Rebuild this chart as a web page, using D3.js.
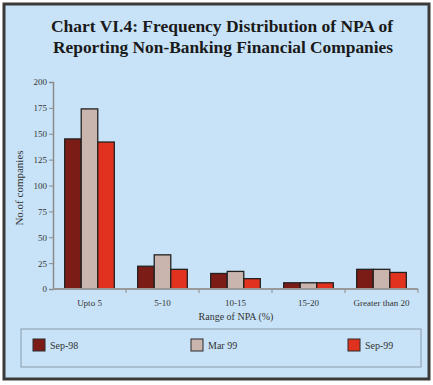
<!DOCTYPE html>
<html>
<head>
<meta charset="utf-8">
<script src="https://cdn.jsdelivr.net/npm/d3@7"></script>
<style>
  body { margin: 0; background: #ffffff; }
  .tick text { font-family: "Liberation Serif", serif; font-size: 9px; fill: #333; }
</style>
</head>
<body>
<div class="chart"></div>
<script>
var categories = ["Upto 5", "5-10", "10-15", "15-20", "Greater than 20"];
var seriesNames = ["Sep-98", "Mar 99", "Sep-99"];
var sep98 = [145, 22, 15, 6, 19];
var mar99 = [174, 33, 17, 6, 19];
var sep99 = [142, 19, 10, 6, 16];
var yTicks = [0, 25, 50, 75, 100, 125, 150, 175, 200];
var colors = ["#7b1c16", "#c9b5ad", "#e0321f"];

var svgWidth = 433;
var svgHeight = 385;

var margin = { top: 82, right: 15, bottom: 96, left: 53 };
var width = 418 - margin.left;
var height = 289 - margin.top;

var svg = d3.select(".chart")
  .append("svg")
  .attr("width", svgWidth)
  .attr("height", svgHeight);

// background panel and frame
svg.append("rect")
  .attr("x", 4).attr("y", 4)
  .attr("width", 425).attr("height", 375)
  .attr("fill", "#c8e3f8")
  .attr("stroke", "#3a3a3a")
  .attr("stroke-width", 3);

// title
var title = svg.append("text")
  .attr("text-anchor", "middle")
  .attr("font-family", "Liberation Serif, serif")
  .attr("font-weight", "bold")
  .attr("font-size", 16)
  .attr("fill", "#1a1a1a");
title.append("tspan").attr("x", 222).attr("y", 32)
  .attr("textLength", 342).attr("lengthAdjust", "spacingAndGlyphs")
  .text("Chart VI.4: Frequency Distribution of NPA of");
title.append("tspan").attr("x", 223).attr("y", 53)
  .attr("textLength", 340).attr("lengthAdjust", "spacingAndGlyphs")
  .text("Reporting Non-Banking Financial Companies");

var chartGroup = svg.append("g")
  .attr("transform", `translate(${margin.left}, ${margin.top})`);

var x0 = d3.scaleBand()
  .domain(categories)
  .range([0, width])
  .paddingInner(0.32)
  .paddingOuter(0.16);

var x1 = d3.scaleBand()
  .domain(seriesNames)
  .range([0, x0.bandwidth()]);

var y = d3.scaleLinear()
  .domain([0, 200])
  .range([height, 0]);

// bars
var table = categories.map(function (c, i) {
  return { cat: c, vals: [sep98[i], mar99[i], sep99[i]] };
});

var groups = chartGroup.selectAll(".grp")
  .data(table)
  .enter().append("g")
  .attr("transform", d => `translate(${x0(d.cat)}, 0)`);

groups.selectAll("rect")
  .data(d => d.vals.map((v, j) => ({ name: seriesNames[j], v: v, j: j })))
  .enter().append("rect")
  .attr("x", d => x1(d.name))
  .attr("y", d => y(d.v))
  .attr("width", x1.bandwidth())
  .attr("height", d => height - y(d.v))
  .attr("fill", d => colors[d.j])
  .attr("stroke", "#222")
  .attr("stroke-width", 1.3);

// y axis
var leftAxis = d3.axisLeft(y).tickValues(yTicks).tickSize(4).tickPadding(2);
var gy = chartGroup.append("g").call(leftAxis);
gy.select(".domain").attr("stroke", "#8a8a8a").attr("stroke-width", 1.5);
gy.selectAll(".tick line").attr("stroke", "#8a8a8a");

// x axis with ticks between groups
var xEdge = d3.scaleLinear().domain([0, categories.length]).range([0, width]);
chartGroup.append("line")
  .attr("x1", 0).attr("x2", width)
  .attr("y1", height).attr("y2", height)
  .attr("stroke", "#9a9a9a").attr("stroke-width", 2);
chartGroup.selectAll(".xt")
  .data(d3.range(1, categories.length + 1))
  .enter().append("line")
  .attr("x1", d => xEdge(d)).attr("x2", d => xEdge(d))
  .attr("y1", height).attr("y2", height + 4)
  .attr("stroke", "#8a8a8a");

chartGroup.selectAll(".xl")
  .data(categories)
  .enter().append("text")
  .attr("x", d => x0(d) + x0.bandwidth() / 2)
  .attr("y", height + 17)
  .attr("text-anchor", "middle")
  .attr("font-family", "Liberation Serif, serif")
  .attr("font-size", 9)
  .attr("fill", "#333")
  .text(d => d);

// axis titles
svg.append("text")
  .attr("x", 236).attr("y", 320)
  .attr("text-anchor", "middle")
  .attr("font-family", "Liberation Serif, serif")
  .attr("font-size", 10)
  .attr("fill", "#333")
  .text("Range of NPA (%)");

svg.append("text")
  .attr("transform", "translate(23, 188) rotate(-90)")
  .attr("text-anchor", "middle")
  .attr("font-family", "Liberation Serif, serif")
  .attr("font-size", 11)
  .attr("fill", "#333")
  .text("No.of companies");

// legend
svg.append("rect")
  .attr("x", 21).attr("y", 329)
  .attr("width", 400).attr("height", 38)
  .attr("fill", "none")
  .attr("stroke", "#8a9aa6")
  .attr("stroke-width", 1);

var legendX = [33, 191, 348];
var legend = svg.selectAll(".lg")
  .data(seriesNames)
  .enter().append("g")
  .attr("transform", (d, i) => `translate(${legendX[i]}, 339)`);
legend.append("rect")
  .attr("width", 12).attr("height", 12)
  .attr("fill", (d, i) => colors[i])
  .attr("stroke", "#2a2a2a");
legend.append("text")
  .attr("x", 17).attr("y", 10)
  .attr("font-family", "Liberation Serif, serif")
  .attr("font-size", 10)
  .attr("fill", "#333")
  .text(d => d);
</script>
</body>
</html>
